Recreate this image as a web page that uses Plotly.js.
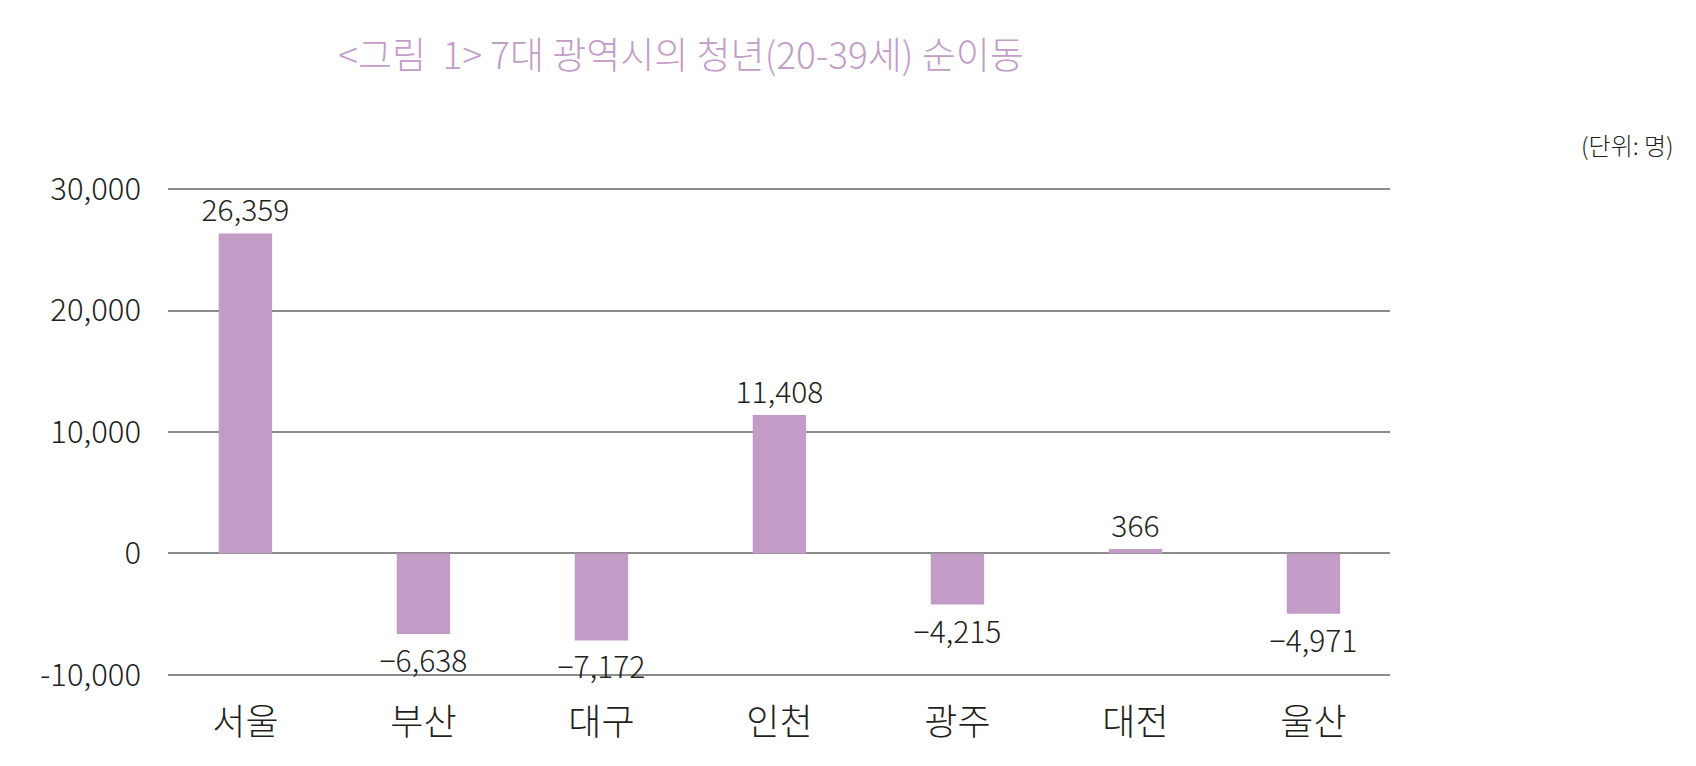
<!DOCTYPE html>
<html><head><meta charset="utf-8">
<script src="https://cdn.plot.ly/plotly-3.0.1.min.js"></script>
<style>html,body{margin:0;padding:0;background:#fff}#chart{width:1696px;height:766px}</style>
</head><body><div id="chart"></div>
<script>
const categories = ['서울','부산','대구','인천','광주','대전','울산'];
const netMigration = [26359, -6638, -7172, 11408, -4215, 366, -4971];
const yTickVals = [-10000, 0, 10000, 20000, 30000];
const yTickText = ['-10,000', '0', '10,000', '20,000', '30,000'];
const titleText = '&lt;그림  1&gt; 7대 광역시의 청년(20-39세) 순이동';
const unitText = '(단위: 명)';

const FONT = 'Noto Sans CJK KR, Noto Sans, sans-serif';
const W = 1696, H = 766;
const yMin = -10100, yMax = 30100;
const pxPerUnit = (675 - 189) / 40000;
const plotL = 168, plotR = 1390;
const plotT = Math.round(189 - (yMax - 30000) * pxPerUnit);
const plotB = Math.round(675 + (-10000 - yMin) * pxPerUnit);

const trace = {
  type: 'bar',
  x: categories,
  y: netMigration,
  width: 0.3,
  marker: {color: '#c29cc7', line: {width: 0}},
  text: netMigration.map(v => (v < 0 ? '−' : '') + Math.abs(v).toLocaleString('en-US')),
  textposition: 'outside',
  constraintext: 'none',
  textfont: {family: FONT, size: 30, color: '#231f20', weight: 300},
  cliponaxis: false,
  hoverinfo: 'none'
};

const layout = {
  width: W, height: H,
  paper_bgcolor: '#fff', plot_bgcolor: '#fff',
  margin: {l: plotL, r: W - plotR, t: plotT, b: H - plotB, pad: 0},
  showlegend: false,
  font: {family: FONT, color: '#231f20'},
  title: {
    text: titleText,
    font: {family: FONT, size: 37, color: '#c39dc8', weight: 300},
    xref: 'container', yref: 'container',
    x: 681 / W, xanchor: 'center',
    y: 1 - 56 / H, yanchor: 'middle'
  },
  xaxis: {
    type: 'category',
    range: [-0.435, 6.43],
    showgrid: false, zeroline: false, showline: false,
    ticks: '',
    tickfont: {family: FONT, size: 36, color: '#231f20', weight: 300},
    ticklabelstandoff: 22
  },
  yaxis: {
    range: [yMin, yMax],
    tickvals: yTickVals,
    ticktext: yTickText,
    showgrid: true, gridcolor: '#8c8c8c', gridwidth: 2,
    zeroline: true, zerolinecolor: '#8c8c8c', zerolinewidth: 2,
    showline: false, ticks: '',
    tickfont: {family: FONT, size: 31, color: '#231f20', weight: 300},
    ticklabelstandoff: 26
  },
  bargap: 0.7,
  annotations: [{
    text: unitText, xref: 'paper', yref: 'paper',
    x: (1676 - plotL) / (plotR - plotL), y: (plotB - 144) / (plotB - plotT),
    xanchor: 'right', yanchor: 'middle', showarrow: false,
    font: {family: FONT, size: 24, color: '#231f20', weight: 300}
  }]
};

Plotly.newPlot('chart', [trace], layout, {displayModeBar: false, staticPlot: true});
</script>
</body></html>
